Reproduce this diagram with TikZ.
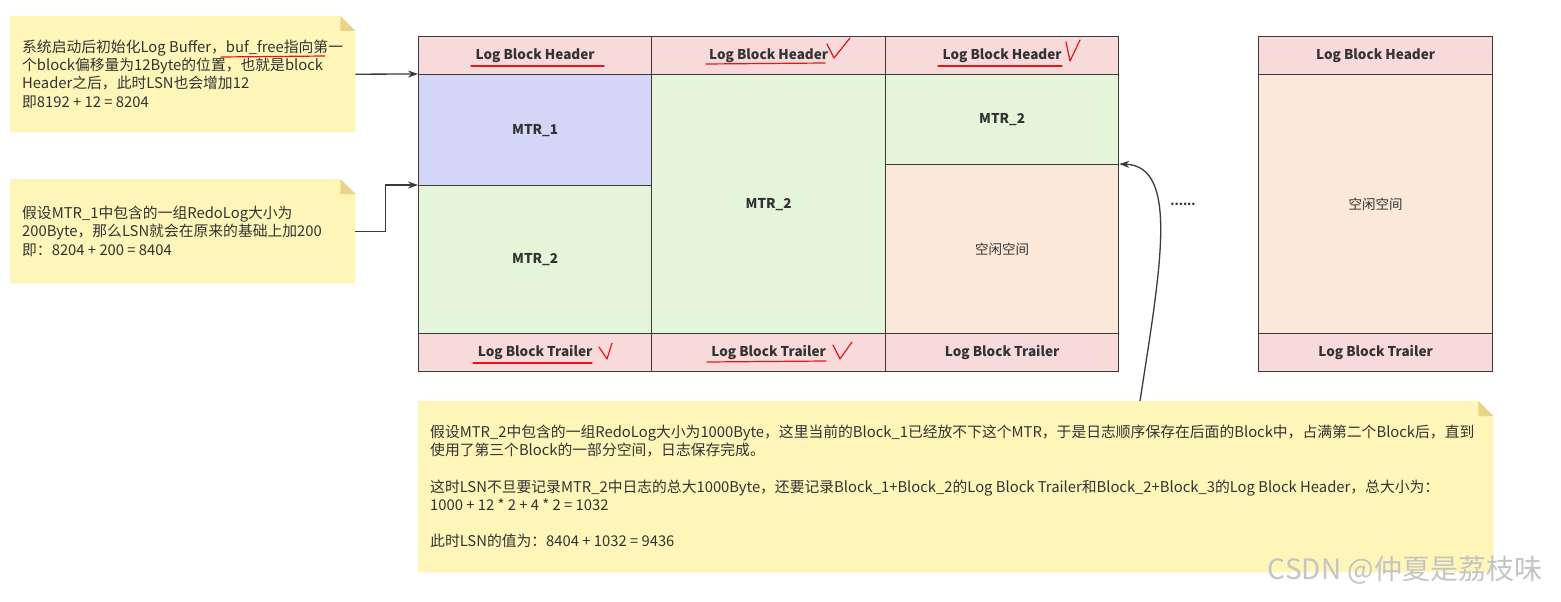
\documentclass[tikz,border=0pt]{standalone}
\usepackage{fontspec}
\setmainfont{Noto Sans CJK SC}
\usetikzlibrary{arrows.meta}
\definecolor{linec}{HTML}{3A3A3A}
\definecolor{hdrfill}{HTML}{F9DADA}
\definecolor{bluefill}{HTML}{D3D6F6}
\definecolor{greenfill}{HTML}{E4F5DA}
\definecolor{freefill}{HTML}{FBE8D8}
\definecolor{notefill}{HTML}{FEF5B8}
\definecolor{foldfill}{HTML}{E9D48A}
\definecolor{txt}{HTML}{333333}
\definecolor{redmark}{HTML}{E8141A}
\definecolor{wm}{HTML}{C4C4C4}
\tikzset{
  cell/.style={draw=linec, line width=1.3pt, anchor=north west, inner sep=0pt, text=txt, font=\fontsize{13.5}{16}\selectfont\bfseries},
  hdr/.style={cell, fill=hdrfill, minimum height=38pt},
  mtrone/.style={cell, fill=bluefill},
  mtrtwo/.style={cell, fill=greenfill},
  freesp/.style={cell, fill=freefill, font=\fontsize{13.5}{16}\selectfont},
  notebox/.style={anchor=north west, inner sep=0pt},
  notetext/.style={anchor=west, inner sep=0pt, align=left, text=txt, font=\fontsize{14.8}{18.2}\selectfont},
  conn/.style={draw=linec, line width=1.3pt, -{Stealth[length=10pt,width=7pt]}},
  redline/.style={draw=redmark, line width=1.2pt, line cap=round, line join=round},
}
\begin{document}
\begin{tikzpicture}[x=1pt,y=-1pt]
\useasboundingbox (0,0) rectangle (1561,602);
% ---------- notes ----------
\node[notebox, minimum width=345pt, minimum height=116pt] (n1) at (10,16) {};
\fill[notefill] (n1.north west) -- ([xshift=-15pt]n1.north east) -- ([yshift=-15pt]n1.north east) -- (n1.south east) -- (n1.south west) -- cycle;
\fill[foldfill] ([xshift=-15pt]n1.north east) -- ([yshift=-15pt]n1.north east) -- ([xshift=-15pt,yshift=-15pt]n1.north east) -- cycle;
\node[notetext] (n1t) at ([xshift=12pt]n1.west) {系统启动后初始化Log Buffer，buf\_free指向第一\\个block偏移量为12Byte的位置，也就是block\\Header之后，此时LSN也会增加12\\即8192 + 12 = 8204};

\node[notebox, minimum width=345pt, minimum height=104pt] (n2) at (10,179) {};
\fill[notefill] (n2.north west) -- ([xshift=-15pt]n2.north east) -- ([yshift=-15pt]n2.north east) -- (n2.south east) -- (n2.south west) -- cycle;
\fill[foldfill] ([xshift=-15pt]n2.north east) -- ([yshift=-15pt]n2.north east) -- ([xshift=-15pt,yshift=-15pt]n2.north east) -- cycle;
\node[notetext] (n2t) at ([xshift=12pt]n2.west) {假设MTR\_1中包含的一组RedoLog大小为\\200Byte，那么LSN就会在原来的基础上加200\\即：8204 + 200 = 8404};

\node[notebox, minimum width=1075pt, minimum height=171pt] (n3) at (418,401) {};
\fill[notefill] (n3.north west) -- ([xshift=-15pt]n3.north east) -- ([yshift=-15pt]n3.north east) -- (n3.south east) -- (n3.south west) -- cycle;
\fill[foldfill] ([xshift=-15pt]n3.north east) -- ([yshift=-15pt]n3.north east) -- ([xshift=-15pt,yshift=-15pt]n3.north east) -- cycle;
\node[notetext] (n3t) at ([xshift=12pt]n3.west) {假设MTR\_2中包含的一组RedoLog大小为1000Byte，这里当前的Block\_1已经放不下这个MTR，于是日志顺序保存在后面的Block中，占满第二个Block后，直到\\使用了第三个Block的一部分空间，日志保存完成。\\[18.2pt]这时LSN不旦要记录MTR\_2中日志的总大1000Byte，还要记录Block\_1+Block\_2的Log Block Trailer和Block\_2+Block\_3的Log Block Header，总大小为：\\1000 + 12 * 2 + 4 * 2 = 1032\\[18.2pt]此时LSN的值为：8404 + 1032 = 9436};

% ---------- blocks ----------
% block 1
\node[hdr, minimum width=233pt] (h1) at (418,36) {Log Block Header};
\node[mtrone, minimum width=233pt, minimum height=111pt] (m1) at (418,74) {MTR\_1};
\node[mtrtwo, minimum width=233pt, minimum height=148pt] (m2) at (418,185) {MTR\_2};
\node[hdr, minimum width=233pt] (t1) at (418,333) {Log Block Trailer};
% block 2
\node[hdr, minimum width=234pt] (h2) at (651,36) {Log Block Header};
\node[mtrtwo, minimum width=234pt, minimum height=259pt] (m3) at (651,74) {MTR\_2};
\node[hdr, minimum width=234pt] (t2) at (651,333) {Log Block Trailer};
% block 3
\node[hdr, minimum width=233pt] (h3) at (885,36) {Log Block Header};
\node[mtrtwo, minimum width=233pt, minimum height=90pt] (m4) at (885,74) {MTR\_2};
\node[freesp, minimum width=233pt, minimum height=169pt] (f3) at (885,164) {空闲空间};
\node[hdr, minimum width=233pt] (t3) at (885,333) {Log Block Trailer};
% block 4
\node[hdr, minimum width=234pt] (h4) at (1258,36) {Log Block Header};
\node[freesp, minimum width=234pt, minimum height=259pt] (f4) at (1258,74) {空闲空间};
\node[hdr, minimum width=234pt] (t4) at (1258,333) {Log Block Trailer};

\node[text=txt, font=\fontsize{12}{14}\selectfont\bfseries] (dots) at (1183,204) {......};

% ---------- connectors ----------
\draw[conn] (n1.east) -- (m1.north west);
\draw[conn] (n2.east) -- ++(30,0) |- (m2.north west);
\coordinate (cs) at (1140,401);
\draw[conn] (cs) .. controls (1160,270) and (1180,166) .. (f3.north east);

% ---------- red annotations ----------
\draw[redline] (471,66) -- (604,66);
\draw[redline] (706,64) -- (825,63);
\draw[redline] (827,44) -- (834,58) -- (850,38);
\draw[redline] (938,66) -- (1062,66);
\draw[redline] (1066,42) -- (1070,61) -- (1080,40);
\draw[redline] (473,363) -- (592,363);
\draw[redline] (599,347) -- (607,359) -- (612,343);
\draw[redline] (707,362) -- (826,361);
\draw[redline] (833,345) -- (840,359) -- (852,342);
\draw[redline] (221,57) -- (325,56);

% ---------- watermark ----------
\node[text=wm, font=\fontsize{28}{32}\selectfont] (wmk) at (1405,570) {CSDN @仲夏是荔枝味};
\end{tikzpicture}
\end{document}
